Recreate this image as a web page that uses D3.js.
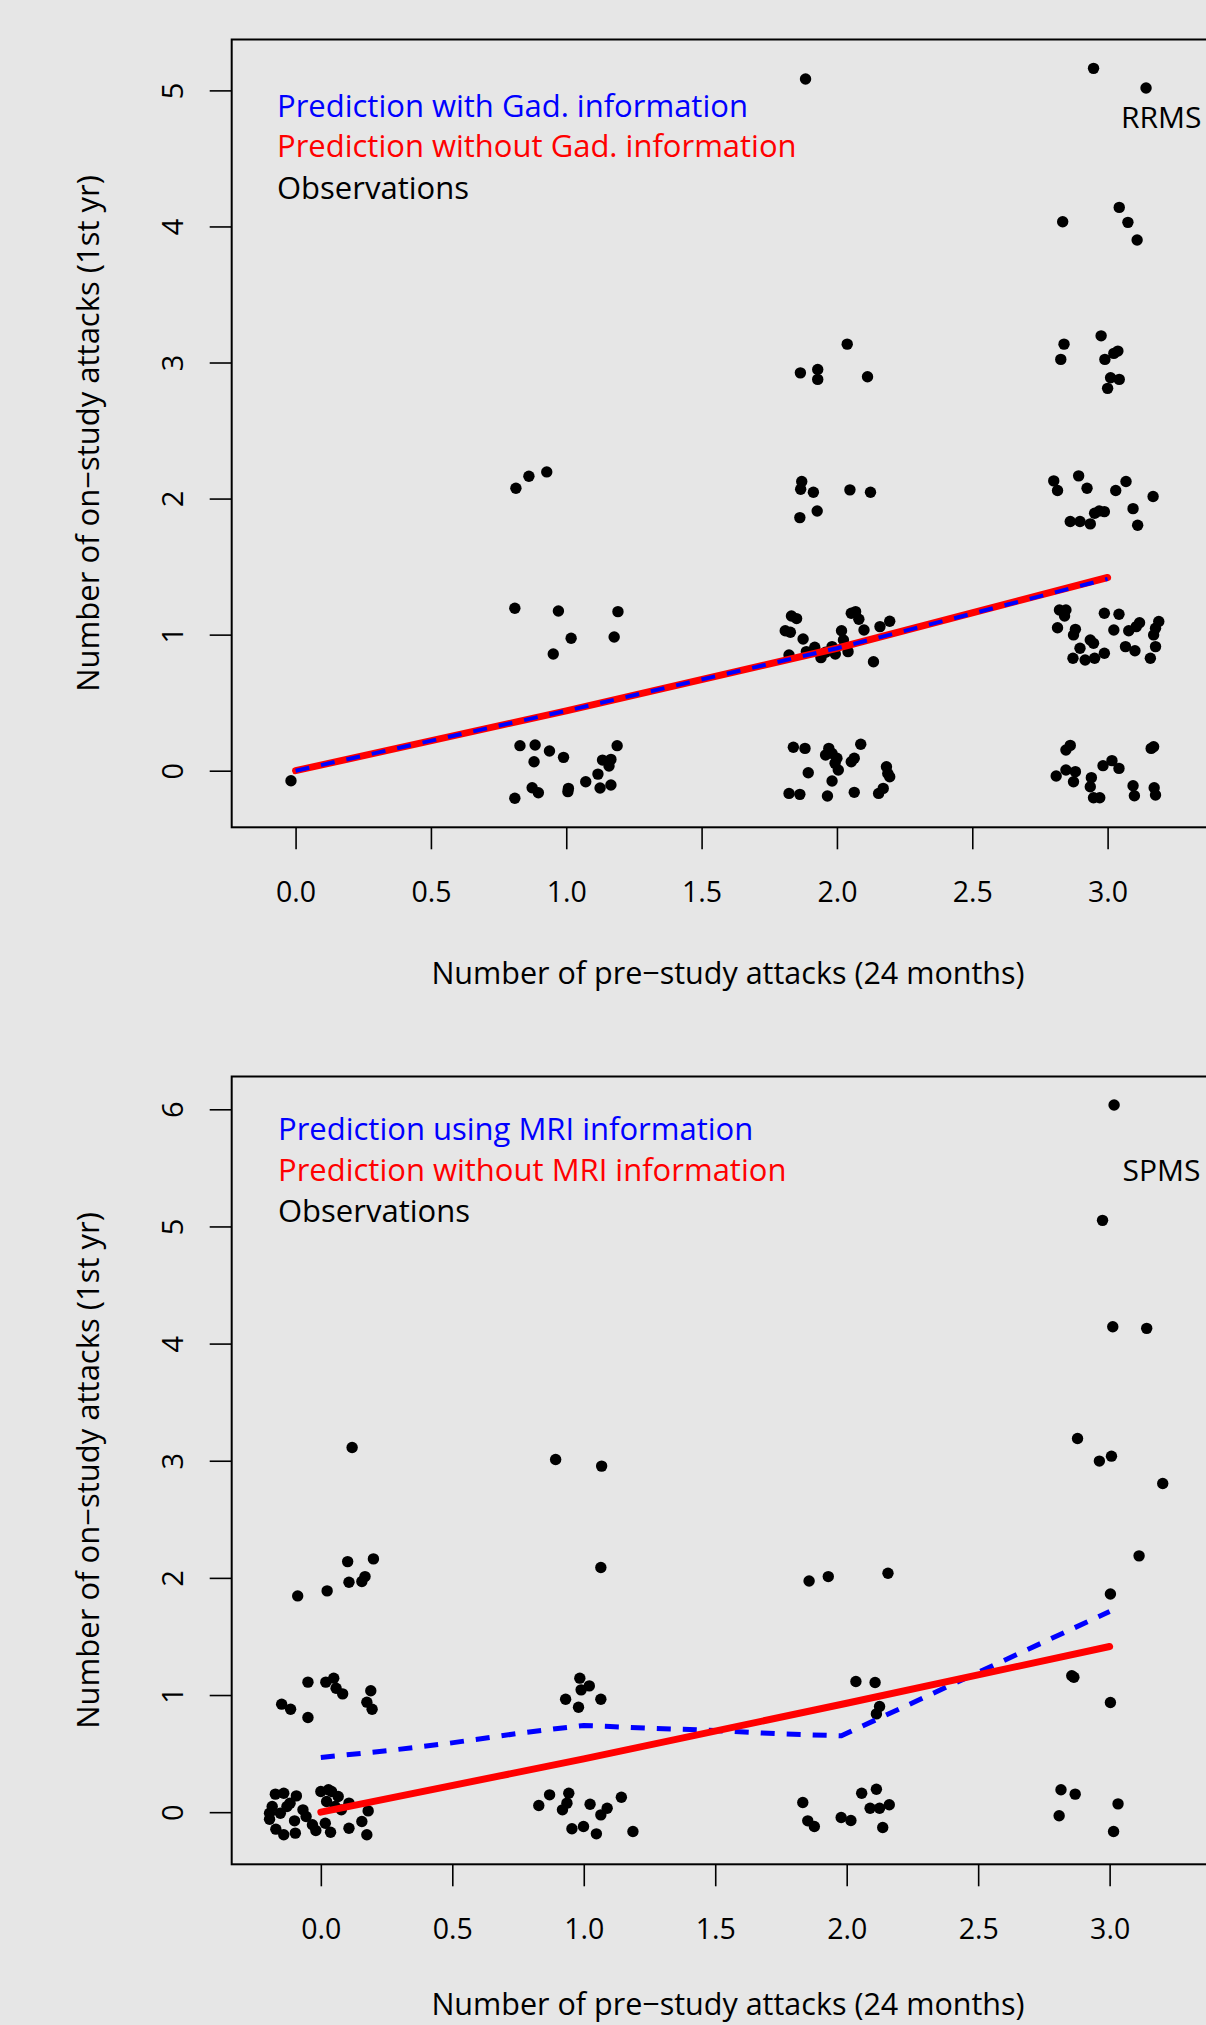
<!DOCTYPE html>
<html>
<head>
<meta charset="utf-8">
<script src="https://cdn.jsdelivr.net/npm/d3@7"></script>
<style>
  html, body { margin: 0; padding: 0; background: #e6e6e6; }
  svg { display: block; }
  text { font-family: "Open Sans", Lato, sans-serif; }
</style>
</head>
<body>
<div id="chart"></div>
<script>
const width = 1206;
const height = 2025;

const xTicks = [0, 0.5, 1, 1.5, 2, 2.5, 3];
const rrmsYTicks = [0, 1, 2, 3, 4, 5];
const spmsYTicks = [0, 1, 2, 3, 4, 5, 6];

const xTitle = "Number of pre\u2212study attacks (24 months)";
const yTitle = "Number of on\u2212study attacks (1st yr)";

// RRMS (top panel) - jittered observations
const rrmsX = [-0.017,
  0.814, 0.862, 0.928,
  0.810, 0.971, 1.191, 1.018, 1.177, 0.952,
  0.829, 0.885, 0.938, 0.990, 0.881, 1.188, 1.134, 1.165, 1.158, 1.117, 1.072, 1.165, 1.125, 1.008, 1.006, 0.874, 0.897, 0.810,
  1.884, 1.865, 1.929, 1.929, 2.038, 2.113,
  1.870, 1.866, 1.913, 2.048, 2.124, 1.927, 1.863,
  1.832, 1.851, 1.809, 1.828, 1.875, 1.823, 1.918, 1.941, 2.017, 2.024, 1.982, 1.994, 2.041, 2.053, 2.069, 2.081, 2.100, 2.159, 2.195, 2.135, 1.958, 1.887,
  1.839, 1.882, 1.970, 1.982, 2.000, 1.958, 2.088, 2.064, 2.053, 1.993, 2.005, 1.894, 1.982, 1.823, 1.863, 1.965, 2.064, 2.154, 2.171, 2.183, 2.195, 2.188,
  2.948, 3.142,
  2.834, 3.043, 3.075, 3.109,
  2.839, 2.827, 2.976, 3.038, 3.023, 2.990, 3.011, 3.043, 3.000,
  2.801, 2.815, 2.893, 2.924, 3.030, 3.068, 3.168, 3.094, 3.111, 2.862, 2.898, 2.936, 2.952, 2.969, 2.988,
  2.822, 2.846, 2.841, 2.815, 2.881, 2.874, 2.898, 2.936, 2.948, 2.988, 3.042, 2.988, 2.952, 2.917, 2.872, 3.023, 3.078, 3.118, 3.106, 3.066, 3.101, 3.158, 3.177, 3.170, 3.189, 3.177,
  2.846, 2.862, 2.810, 2.846, 2.881, 2.874, 2.940, 2.936, 2.948, 2.971, 2.983, 3.016, 3.042, 3.094, 3.099, 3.172, 3.177, 3.161, 3.170];
const rrmsY = [-0.074,
  2.076, 2.164, 2.196,
  1.194, 1.174, 1.169, 0.973, 0.983, 0.858,
  0.184, 0.189, 0.145, 0.098, 0.066, 0.184, 0.078, 0.083, 0.034, -0.025, -0.081, -0.105, -0.127, -0.130, -0.154, -0.125, -0.162, -0.203,
  5.084, 2.924, 2.949, 2.876, 3.135, 2.895,
  2.125, 2.069, 2.047, 2.064, 2.047, 1.909, 1.860,
  1.137, 1.118, 1.029, 1.017, 0.968, 0.850, 0.907, 0.831, 1.029, 0.961, 0.912, 0.858, 0.875, 1.157, 1.169, 1.113, 1.034, 1.059, 1.098, 0.801, 0.870, 0.875,
  0.172, 0.164, 0.164, 0.127, 0.091, 0.115, 0.194, 0.091, 0.066, 0.054, 0.005, -0.015, -0.076, -0.167, -0.174, -0.186, -0.159, -0.167, -0.130, 0.029, -0.044, -0.020,
  5.162, 5.018,
  4.035, 4.140, 4.030, 3.900,
  3.135, 3.023, 3.196, 3.084, 3.067, 3.023, 2.888, 2.876, 2.810,
  2.130, 2.059, 2.167, 2.076, 2.059, 2.125, 2.015, 1.926, 1.804, 1.831, 1.831, 1.814, 1.892, 1.909, 1.904,
  1.181, 1.181, 1.137, 1.051, 1.039, 0.998, 0.900, 0.961, 0.936, 1.157, 1.150, 0.863, 0.826, 0.814, 0.826, 1.034, 1.029, 1.088, 1.059, 0.912, 0.882, 0.826, 0.912, 0.998, 1.096, 1.047,
  0.152, 0.186, -0.039, 0.005, -0.007, -0.081, -0.051, -0.118, -0.199, -0.199, 0.037, 0.074, 0.017, -0.110, -0.184, -0.125, -0.179, 0.164, 0.176];

// RRMS predictions
const rrmsPredX = [0, 1, 2, 3];
const rrmsWithGad = [0.0, 0.44, 0.90, 1.41];
const rrmsWithoutGad = [0.0, 0.44, 0.90, 1.42];

// SPMS (bottom panel) - jittered observations
const spmsX = [3.017, 2.973, 3.012, 3.141, 2.878, 2.961, 3.007, 3.202, 3.112, 3.003,
  0.119, 0.893, 1.068, 1.065,
  1.857, 1.930, 2.157,
  -0.088, 0.024, 0.102, 0.107, 0.156, 0.168, 0.200,
  -0.049, 0.019, 0.049, 0.058, 0.083, 0.190, 0.175, 0.195, -0.149, -0.115, -0.049,
  0.985, 1.021, 0.990, 0.931, 0.980, 1.065,
  2.035, 2.108, 2.125, 2.113,
  2.856, 2.864, 3.003,
  -0.173, -0.141, -0.093, 0.000, 0.029, 0.041, 0.022, 0.107, 0.180, -0.185, -0.129, -0.068, -0.195, -0.100, -0.032, 0.017, 0.156, -0.171, -0.141, -0.097, -0.019, 0.037, 0.107, 0.175, -0.056, 0.078, 0.054, -0.117, -0.154, -0.195, 0.066,
  0.870, 0.943, 0.829, 0.936, 0.919, 1.024, 1.089, 1.065, 1.143, 0.955, 0.999, 1.048, 1.187,
  1.833, 1.852, 1.877, 1.979, 2.016, 2.057, 2.113, 2.089, 2.125, 2.162, 2.137,
  2.815, 2.869, 2.808, 3.032, 3.015];
const spmsY = [6.037, 5.052, 4.144, 4.130, 3.190, 2.997, 3.039, 2.806, 2.188, 1.863,
  3.113, 3.011, 2.954, 2.088,
  1.974, 2.011, 2.040,
  1.846, 1.889, 2.139, 1.963, 1.969, 2.011, 2.162,
  1.110, 1.110, 1.144, 1.058, 1.010, 1.036, 0.939, 0.879, 0.922, 0.879, 0.808,
  1.144, 1.078, 1.044, 0.964, 0.896, 0.964,
  1.115, 1.107, 0.902, 0.839,
  1.164, 1.152, 0.936,
  0.154, 0.162, 0.139, 0.176, 0.191, 0.176, 0.091, 0.077, 0.011, 0.048, 0.048, 0.020, -0.060, -0.074, -0.108, -0.094, -0.080, -0.145, -0.193, -0.179, -0.156, -0.171, -0.137, -0.193, -0.037, 0.020, 0.048, 0.077, -0.009, -0.009, 0.134,
  0.148, 0.162, 0.057, 0.077, 0.020, 0.068, 0.034, -0.023, 0.128, -0.142, -0.122, -0.185, -0.165,
  0.083, -0.074, -0.122, -0.046, -0.071, 0.162, 0.196, 0.034, 0.034, 0.063, -0.131,
  0.191, 0.154, -0.031, 0.071, -0.165];

// SPMS predictions
const spmsMriX = [0, 0.25, 0.49, 0.74, 0.91, 1.0, 1.1, 1.25, 1.5, 1.74, 1.98, 3.0];
const spmsWithMri = [0.467, 0.524, 0.589, 0.669, 0.717, 0.740, 0.731, 0.717, 0.697, 0.669, 0.652, 1.713];
const spmsPredX = [0, 1, 2, 3];
const spmsWithoutMri = [0.0, 0.455, 0.93, 1.414];

const panels = [
  {
    top: 39.5, bottom: 827.3,
    xDomain: [-0.236, 3.43], yDomain: [-0.416, 5.374], yTicks: rrmsYTicks,
    xs: rrmsX, ys: rrmsY,
    blueX: rrmsPredX, blueY: rrmsWithGad, redX: rrmsPredX, redY: rrmsWithoutGad,
    blueOnTop: true,
    legend: ["Prediction with Gad. information", "Prediction without Gad. information", "Observations"],
    legendX: 277, legendY: [116.7, 157, 199],
    tag: "RRMS", tagX: 1121, tagY: 128,
    titleY: 984
  },
  {
    top: 1076.5, bottom: 1864.3,
    xDomain: [-0.339, 3.435], yDomain: [-0.445, 6.28], yTicks: spmsYTicks,
    xs: spmsX, ys: spmsY,
    blueX: spmsMriX, blueY: spmsWithMri, redX: spmsPredX, redY: spmsWithoutMri,
    blueOnTop: false,
    legend: ["Prediction using MRI information", "Prediction without MRI information", "Observations"],
    legendX: 278, legendY: [1140, 1180.7, 1222],
    tag: "SPMS", tagX: 1122.5, tagY: 1180.7,
    titleY: 2015
  }
];

const plotLeft = 231.7;
const plotRight = 1224;
const legendColors = ["#0000ff", "#ff0000", "#000000"];

const svg = d3.select("#chart").append("svg")
    .attr("width", width)
    .attr("height", height);

svg.append("rect")
    .attr("width", width)
    .attr("height", height)
    .attr("fill", "#e6e6e6");

function drawPanel(p) {
    const xScale = d3.scaleLinear().domain(p.xDomain).range([plotLeft, plotRight]);
    const yScale = d3.scaleLinear().domain(p.yDomain).range([p.bottom, p.top]);

    const g = svg.append("g");

    // x axis
    const xAxis = g.append("g")
        .attr("transform", "translate(0," + p.bottom + ")")
        .call(d3.axisBottom(xScale).tickValues(xTicks).tickSize(22).tickFormat(d3.format(".1f")));
    xAxis.select(".domain").remove();
    xAxis.selectAll("line").attr("stroke", "#000").attr("stroke-width", 1.6);
    xAxis.selectAll("text")
        .attr("y", 74.5)
        .attr("dy", 0)
        .attr("fill", "#000")
        .style("font-family", "\"Open Sans\", sans-serif")
        .style("font-size", "28.5px");

    // y axis, labels parallel to the axis
    const yAxis = g.append("g")
        .attr("transform", "translate(" + plotLeft + ",0)")
        .call(d3.axisLeft(yScale).tickValues(p.yTicks).tickSize(22).tickFormat(d3.format("d")));
    yAxis.select(".domain").remove();
    yAxis.selectAll("line").attr("stroke", "#000").attr("stroke-width", 1.6);
    yAxis.selectAll("text")
        .attr("transform", "rotate(-90)")
        .attr("x", 0)
        .attr("y", -48.7)
        .attr("dy", 0)
        .attr("text-anchor", "middle")
        .attr("fill", "#000")
        .style("font-family", "\"Open Sans\", sans-serif")
        .style("font-size", "29px");

    // axis titles
    g.append("text")
        .attr("x", 728)
        .attr("y", p.titleY)
        .attr("text-anchor", "middle")
        .style("font-size", "30.5px")
        .text(xTitle);

    g.append("text")
        .attr("transform", "translate(99.3," + ((p.top + p.bottom) / 2) + ") rotate(-90)")
        .attr("text-anchor", "middle")
        .style("font-size", "31px")
        .text(yTitle);

    // box
    g.append("rect")
        .attr("x", plotLeft)
        .attr("y", p.top)
        .attr("width", plotRight - plotLeft)
        .attr("height", p.bottom - p.top)
        .attr("fill", "none")
        .attr("stroke", "#000")
        .attr("stroke-width", 2);

    // observations
    const pts = p.xs.map((x, i) => [x, p.ys[i]]);
    g.append("g").selectAll("circle")
        .data(pts)
        .enter()
        .append("circle")
        .attr("cx", d => xScale(d[0]))
        .attr("cy", d => yScale(d[1]))
        .attr("r", 5.7)
        .attr("fill", "#000");

    const line = d3.line()
        .x(d => xScale(d[0]))
        .y(d => yScale(d[1]));

    const red = p.redX.map((x, i) => [x, p.redY[i]]);
    const blue = p.blueX.map((x, i) => [x, p.blueY[i]]);

    function drawRed() {
        g.append("path")
            .attr("d", line(red))
            .attr("fill", "none")
            .attr("stroke", "#ff0000")
            .attr("stroke-width", 7)
            .attr("stroke-linecap", "round")
            .attr("stroke-linejoin", "round");
    }
    function drawBlue() {
        g.append("path")
            .attr("d", line(blue))
            .attr("fill", "none")
            .attr("stroke", "#0000ff")
            .attr("stroke-width", p.blueOnTop ? 4 : 5)
            .attr("stroke-dasharray", "14,12")
            .attr("stroke-linejoin", "round");
    }
    if (p.blueOnTop) { drawRed(); drawBlue(); } else { drawBlue(); drawRed(); }

    // legend text
    g.append("g").selectAll("text")
        .data(p.legend)
        .enter()
        .append("text")
        .attr("x", p.legendX)
        .attr("y", (d, i) => p.legendY[i])
        .attr("fill", (d, i) => legendColors[i])
        .style("font-size", "31px")
        .text(d => d);

    g.append("text")
        .attr("x", p.tagX)
        .attr("y", p.tagY)
        .style("font-size", "30px")
        .text(p.tag);
}

panels.forEach(drawPanel);
</script>
</body>
</html>
